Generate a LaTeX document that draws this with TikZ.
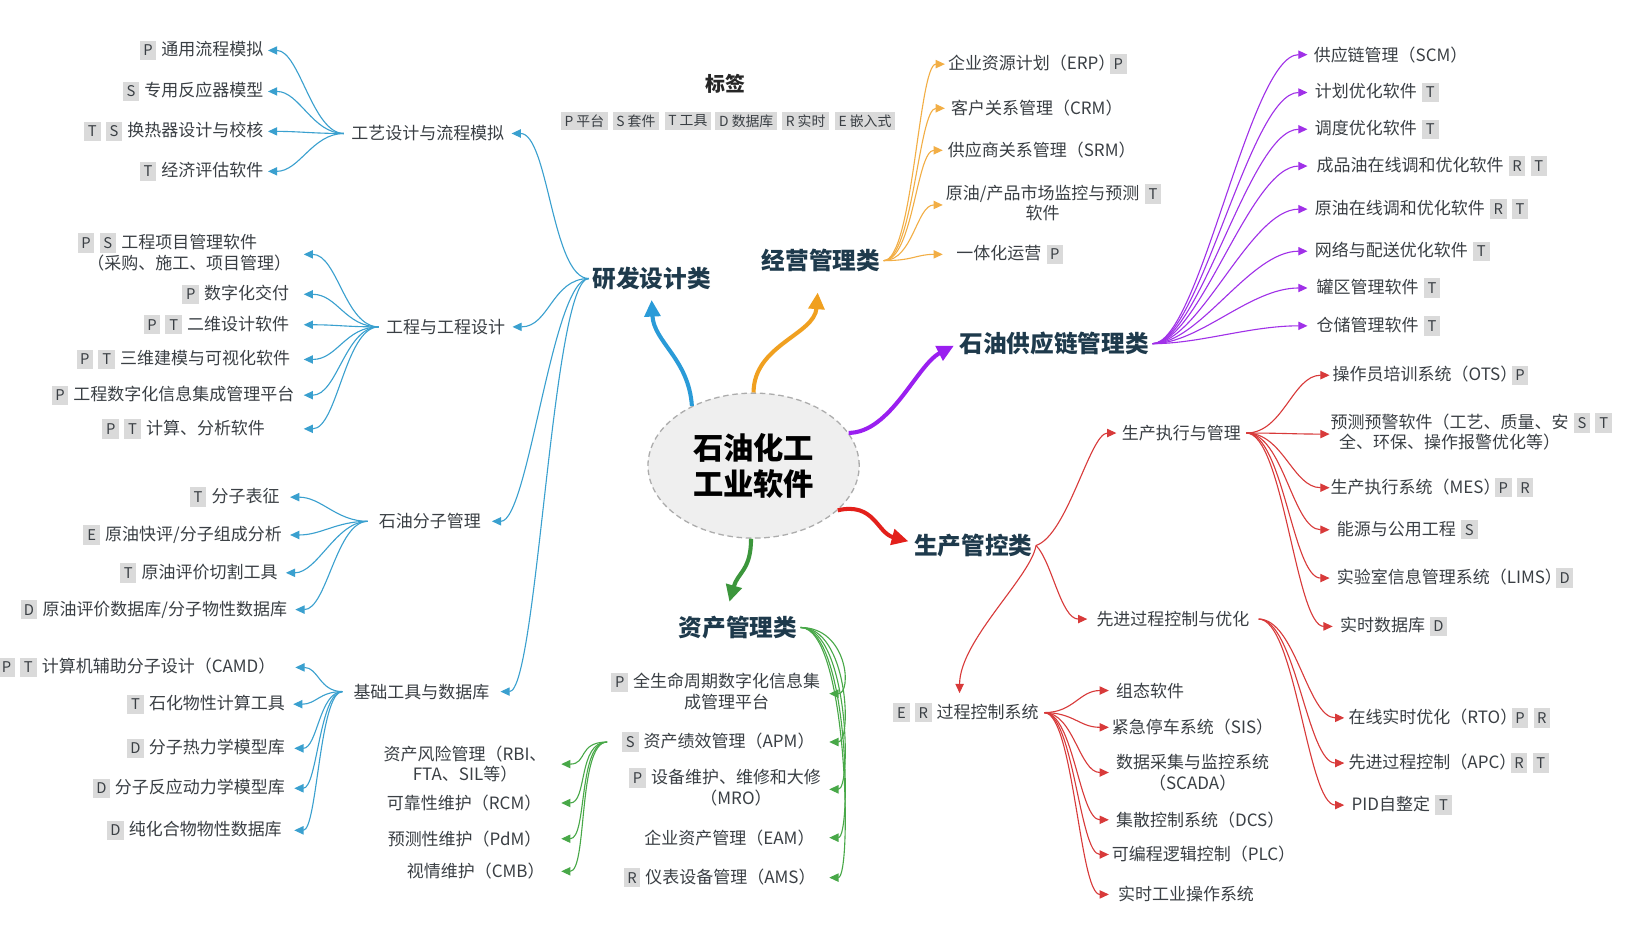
\documentclass[tikz,border=0pt]{standalone}
\usepackage{fontspec}
\setmainfont{Noto Sans CJK SC}
\usetikzlibrary{arrows.meta,calc,shapes.geometric}
\definecolor{tagbg}{HTML}{DADADA}
\definecolor{txt}{HTML}{3A3F44}
\definecolor{cat}{HTML}{1E3A4C}
\definecolor{ellbg}{HTML}{EFEFEF}
\definecolor{cblue}{HTML}{3AA0CF}
\definecolor{cblueT}{HTML}{2A9BD8}
\definecolor{corange}{HTML}{F2AE45}
\definecolor{corangeT}{HTML}{F0A020}
\definecolor{cpurple}{HTML}{A030E8}
\definecolor{cpurpleT}{HTML}{9A1FF0}
\definecolor{cred}{HTML}{D83A3A}
\definecolor{credT}{HTML}{E3201B}
\definecolor{cgreen}{HTML}{48A848}
\definecolor{cgreenT}{HTML}{3C963C}
\newcommand{\tg}[1]{{\setlength{\fboxsep}{0pt}\colorbox{tagbg}{\makebox[9pt]{\rule[-2.3pt]{0pt}{10.5pt}\fontsize{8pt}{9pt}\selectfont\color{txt}#1}}}}
\newcommand{\tgl}[1]{\tg{#1}\hspace{2.8pt}}
\newcommand{\tgr}[1]{\hspace{2.8pt}\tg{#1}}
\newcommand{\tgp}[1]{\hspace{-3pt}\tg{#1}}
\begin{document}
\begin{tikzpicture}[x=0.02cm,y=-0.02cm,
  leaf/.style={inner sep=0pt,text=txt,font=\fontsize{9.2pt}{11pt}\selectfont},
  subn/.style={inner sep=0pt,text=txt,font=\fontsize{9.2pt}{11pt}\selectfont},
  catg/.style={inner sep=0pt,outer sep=2pt,text=cat,font=\fontsize{12.8pt}{15pt}\selectfont\bfseries},
  lgtag/.style={fill=tagbg,inner xsep=2pt,inner ysep=0pt,minimum height=0.33cm,text=txt,font=\fontsize{7.5pt}{9pt}\selectfont},
  thin/.style={line width=0.6pt,-{Triangle[length=5pt,width=4.5pt]}},
  cB/.style={thin,draw=cblue},
  cO/.style={thin,draw=corange},
  cP/.style={thin,draw=cpurple},
  cR/.style={thin,draw=cred},
  cG/.style={thin,draw=cgreen},
  trunk/.style={line width=2.2pt,-{Triangle[length=9pt,width=8.5pt]}},
]
\fill[white] (0,0) rectangle (1568,887);
\useasboundingbox (0,0) rectangle (1568,887);

% ---- root ----
\node[ellipse,draw=gray!65,dash pattern=on 3pt off 2pt,line width=0.7pt,fill=ellbg,
      minimum width=4.02cm,minimum height=2.76cm,inner sep=0pt,align=center,
      font=\fontsize{16.4pt}{19.5pt}\selectfont\bfseries,text=black] (root) at (717,443) {石油化工\\工业软件};

% ---- legend ----
\node[font=\fontsize{10.8pt}{12pt}\selectfont\bfseries,text=black!85] (lgt) at (690,80) {标签};
\node[lgtag] (lg1) at (556,115) {P 平台};
\node[lgtag] (lg2) at (605,115) {S 套件};
\node[lgtag] (lg3) at (654.5,115) {T 工具};
\node[lgtag] (lg4) at (710,115) {D 数据库};
\node[lgtag] (lg5) at (766.5,115) {R 实时};
\node[lgtag] (lg6) at (823,115) {E 嵌入式};

% ---- categories ----
\node[catg] (rd) at (620,265) {研发设计类};
\node[catg] (jy) at (781,248) {经营管理类};
\node[catg] (gl) at (1003,327) {石油供应链管理类};
\node[catg] (sc) at (926,519) {生产管控类};
\node[catg] (zc) at (702,597) {资产管理类};

% ---- sub categories ----
\node[subn,outer xsep=4pt] (gy) at (407,127) {工艺设计与流程模拟};
\node[subn,outer xsep=4pt] (gc) at (424,311) {工程与工程设计};
\node[subn,outer xsep=6pt] (sf) at (409,496) {石油分子管理};
\node[subn,outer xsep=6pt] (jc) at (401,658) {基础工具与数据库};
\node[subn,outer xsep=3pt] (sz) at (1124,412) {生产执行与管理};
\node[subn,outer xsep=5pt] (xj) at (1116,589) {先进过程控制与优化};
\node[subn,outer sep=3pt] (gk) at (919,678) {\tgl{E}\tgl{R}过程控制系统};

% ---- blue leaves ----
\node[leaf,anchor=east,outer xsep=2.5pt] (a1) at (255,48) {\tgl{P}通用流程模拟};
\node[leaf,anchor=east,outer xsep=2.5pt] (a2) at (255,87) {\tgl{S}专用反应器模型};
\node[leaf,anchor=east,outer xsep=2.5pt] (a3) at (255,125) {\tgl{T}\tgl{S}换热器设计与校核};
\node[leaf,anchor=east,outer xsep=2.5pt] (a4) at (255,163) {\tgl{T}经济评估软件};

\node[leaf,anchor=east,outer xsep=6.8pt] (b1) at (289,242) {\begin{tabular}[t]{@{}c@{}}\llap{\tgl{P}\tgl{S}}工程项目管理软件\\（采购、施工、项目管理）\end{tabular}};
\node[leaf,anchor=east,outer xsep=7.9pt] (b2) at (289,280) {\tgl{P}数字化交付};
\node[leaf,anchor=east,outer xsep=7.9pt] (b3) at (289,309) {\tgl{P}\tgl{T}二维设计软件};
\node[leaf,anchor=east,outer xsep=7.4pt] (b4) at (289,342) {\tgl{P}\tgl{T}三维建模与可视化软件};
\node[leaf,anchor=east,outer xsep=5.1pt] (b5) at (289,376) {\tgl{P}工程数字化信息集成管理平台};
\node[leaf,anchor=east,outer xsep=21pt] (b6) at (289,408) {\tgl{P}\tgl{T}计算、分析软件};

\node[leaf,anchor=east,outer xsep=5.7pt] (c1) at (276,473) {\tgl{T}分子表征};
\node[leaf,anchor=east,outer xsep=4.5pt] (c2) at (276,509) {\tgl{E}原油快评/分子组成分析};
\node[leaf,anchor=east,outer xsep=4.5pt] (c3) at (272,545) {\tgl{T}原油评价切割工具};
\node[leaf,anchor=east,outer xsep=4.5pt] (c4) at (281,580) {\tgl{D}原油评价数据库/分子物性数据库};

\node[leaf,anchor=east,outer xsep=10.8pt] (d1) at (281,635) {\tgl{P}\tgl{T}计算机辅助分子设计（CAMD）};
\node[leaf,anchor=east,outer xsep=4.5pt] (d2) at (279,670) {\tgl{T}石化物性计算工具};
\node[leaf,anchor=east,outer xsep=5.1pt] (d3) at (280,712) {\tgl{D}分子热力学模型库};
\node[leaf,anchor=east,outer xsep=5.1pt] (d4) at (280,750) {\tgl{D}分子反应动力学模型库};
\node[leaf,anchor=east,outer xsep=6.8pt] (d5) at (280,790) {\tgl{D}纯化合物物性数据库};

% ---- orange leaves ----
\node[leaf,anchor=west,outer xsep=1.7pt] (e1) at (899,61) {企业资源计划（ERP）\tgp{P}};
\node[leaf,anchor=west,outer xsep=3.4pt] (e2) at (899,103) {客户关系管理（CRM）};
\node[leaf,anchor=west,outer xsep=2.8pt] (e3) at (897,143) {供应商关系管理（SRM）};
\node[leaf,anchor=west,outer xsep=1.7pt] (e4) at (897,195) {\begin{tabular}[t]{@{}c@{}}原油/产品市场监控与预测\rlap{\tgr{T}}\\软件\end{tabular}};
\node[leaf,anchor=west,outer xsep=7.4pt] (e5) at (897,242) {一体化运营\tgr{P}};

% ---- purple leaves ----
\node[leaf,anchor=west,outer xsep=3.4pt] (f1) at (1244,52) {供应链管理（SCM）};
\node[leaf,anchor=west,outer xsep=4pt] (f2) at (1244,88) {计划优化软件\tgr{T}};
\node[leaf,anchor=west,outer xsep=4pt] (f3) at (1244,123) {调度优化软件\tgr{T}};
\node[leaf,anchor=west,outer xsep=5pt] (f4) at (1244,158) {成品油在线调和优化软件\tgr{R}\tgr{T}};
\node[leaf,anchor=west,outer xsep=4pt] (f5) at (1244,199) {原油在线调和优化软件\tgr{R}\tgr{T}};
\node[leaf,anchor=west,outer xsep=4pt] (f6) at (1244,239) {网络与配送优化软件\tgr{T}};
\node[leaf,anchor=west,outer xsep=5pt] (f7) at (1244,274) {罐区管理软件\tgr{T}};
\node[leaf,anchor=west,outer xsep=5pt] (f8) at (1244,310) {仓储管理软件\tgr{T}};

% ---- red leaves ----
\node[leaf,anchor=west,outer xsep=1.7pt] (g1) at (1265,357) {操作员培训系统（OTS）\tgp{P}};
\node[leaf,anchor=west,outer xsep=0.6pt] (g2) at (1265,413) {\begin{tabular}[t]{@{}c@{}}预测预警软件（工艺、质量、安\rlap{\tgr{S}\tgr{T}}\\全、环保、操作报警优化等）\end{tabular}};
\node[leaf,anchor=west,outer xsep=0.6pt] (g3) at (1265,464) {生产执行系统（MES）\tgp{P}\tgr{R}};
\node[leaf,anchor=west,outer xsep=4pt] (g4) at (1265,504) {能源与公用工程\tgr{S}};
\node[leaf,anchor=west,outer xsep=4pt] (g5) at (1265,550) {实验室信息管理系统（LIMS）\tgp{D}};
\node[leaf,anchor=west,outer xsep=4pt] (g6) at (1268,596) {实时数据库\tgr{D}};

\node[leaf,anchor=west,outer xsep=2.3pt] (h1) at (1279,683) {在线实时优化（RTO）\tgp{P}\tgr{R}};
\node[leaf,anchor=west,outer xsep=2.3pt] (h2) at (1279,726) {先进过程控制（APC）\tgp{R}\tgr{T}};
\node[leaf,anchor=west,outer xsep=4pt] (h3) at (1279,766) {PID自整定\tgr{T}};

\node[leaf,anchor=west,outer xsep=4pt] (i1) at (1055,657) {组态软件};
\node[leaf,anchor=west,outer xsep=1.7pt] (i2) at (1055,692) {紧急停车系统（SIS）};
\node[leaf,anchor=west,outer xsep=4pt,align=center] (i3) at (1055,735) {数据采集与监控系统\\（SCADA）};
\node[leaf,anchor=west,outer xsep=4pt] (i4) at (1055,780) {集散控制系统（DCS）};
\node[leaf,anchor=west,outer xsep=1.7pt] (i5) at (1055,813) {可编程逻辑控制（PLC）};
\node[leaf,anchor=west,outer xsep=5pt] (i6) at (1055,851) {实时工业操作系统};

% ---- green leaves ----
\node[leaf,anchor=east,outer xsep=5pt] (j1) at (789,660) {\begin{tabular}[t]{@{}c@{}}\llap{\tgl{P}}全生命周期数字化信息集\\成管理平台\end{tabular}};
\node[leaf,anchor=east,outer xsep=8pt] (j2) at (789,706) {\tgl{S}资产绩效管理（APM）};
\node[leaf,anchor=east,outer xsep=4.5pt] (j3) at (789,751) {\begin{tabular}[t]{@{}c@{}}\llap{\tgl{P}}设备维护、维修和大修\\（MRO）\end{tabular}};
\node[leaf,anchor=east,outer xsep=8pt] (j4) at (789,797) {企业资产管理（EAM）};
\node[leaf,anchor=east,outer xsep=7.4pt] (j5) at (789,835) {\tgl{R}仪表设备管理（AMS）};

\node[leaf,anchor=east,outer xsep=8pt,align=center] (k1) at (534,727) {资产风险管理（RBI、\\FTA、SIL等）};
\node[leaf,anchor=east,outer xsep=10.8pt] (k2) at (534,764) {可靠性维护（RCM）};
\node[leaf,anchor=east,outer xsep=10.8pt] (k3) at (534,798) {预测性维护（PdM）};
\node[leaf,anchor=east,outer xsep=9pt] (k4) at (534,829) {视情维护（CMB）};

% ---- trunks ----
\draw[trunk,draw=cblueT] (root.136) .. controls +(-3,-45) and +(2,40) .. ($(rd.south)+(0,6)$);
\draw[trunk,draw=corangeT] (root.90) .. controls +(0,-45) and +(-3,40) .. ($(jy.south)+(-3,16)$);
\draw[trunk,draw=cpurpleT] (root.19) .. controls +(40,0) and +(-35,18) .. ($(gl.west)+(-2,2)$);
\draw[trunk,draw=credT] (root.-28) .. controls +(35,-8) and +(-30,-8) .. ($(sc.west)+(-2,-4)$);
\draw[trunk,draw=cgreenT] (root.268) .. controls +(0,30) and +(8,-28) .. ($(zc.north)+(-8,-10)$);

% ---- blue connectors ----
\foreach \s in {gy,gc,sf,jc} \draw[cB] (rd.west) .. controls +(-35,0) and +(35,0) .. (\s.east);
\foreach \n in {a1,a2,a3,a4} \draw[cB] (gy.west) .. controls +(-30,0) and +(30,0) .. (\n.east);
\foreach \n in {b1,b2,b3,b4,b5,b6} \draw[cB] (gc.west) .. controls +(-32,0) and +(32,0) .. (\n.east);
\foreach \n in {c1,c2,c3,c4} \draw[cB] (sf.west) .. controls +(-30,0) and +(30,0) .. (\n.east);
\foreach \n in {d1,d2,d3,d4,d5} \draw[cB] (jc.west) .. controls +(-22,0) and +(22,0) .. (\n.east);

% ---- orange connectors ----
\foreach \n in {e1,e2,e3,e4,e5} \draw[cO] (jy.east) .. controls +(28,0) and +(-25,0) .. (\n.west);

% ---- purple connectors ----
\foreach \n in {f1,f2,f3,f4,f5,f6,f7,f8} \draw[cP] (gl.east) .. controls +(45,0) and +(-55,0) .. (\n.west);

% ---- red connectors ----
\draw[cR] (sc.east) .. controls +(30,-10) and +(-25,0) .. (sz.west);
\draw[cR] (sc.east) .. controls +(15,15) and +(-25,0) .. (xj.west);
\draw[cR] (sc.east) .. controls +(-5,30) and +(0,-50) .. ($(gk.north)+(-6,-4)$);
\foreach \n in {g1,g2,g3,g4,g5,g6} \draw[cR] (sz.east) .. controls +(35,0) and +(-35,0) .. (\n.west);
\foreach \n in {h1,h2,h3} \draw[cR] (xj.east) .. controls +(35,0) and +(-35,0) .. (\n.west);
\foreach \n in {i1,i2,i3,i4,i5,i6} \draw[cR] (gk.east) .. controls +(28,0) and +(-28,0) .. (\n.west);

% ---- green connectors ----
\foreach \n in {j1,j2,j3,j4,j5} \draw[cG] (zc.east) .. controls +(45,0) and +(22,0) .. (\n.east);
\foreach \n in {k1,k2,k3,k4} \draw[cG] (j2.west) .. controls +(-28,0) and +(25,0) .. (\n.east);
\end{tikzpicture}
\end{document}
